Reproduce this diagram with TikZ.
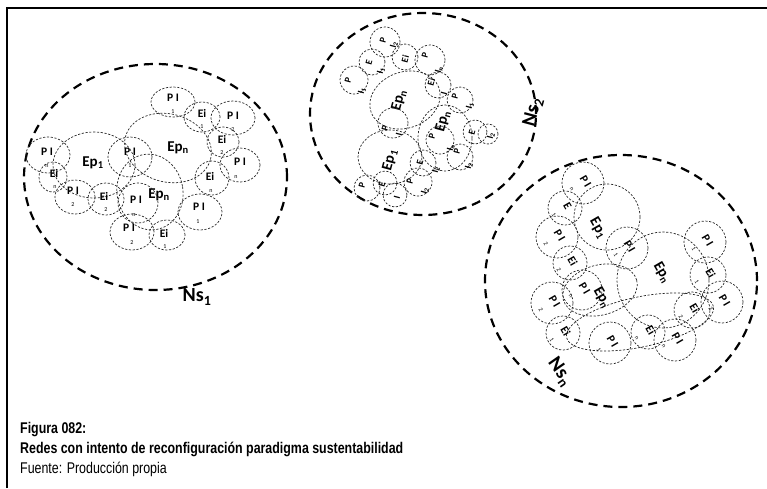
\documentclass[tikz,border=0pt]{standalone}
\usepackage{fontspec}
\setmainfont{Carlito}
\newfontfamily\capfont[FakeStretch=0.8]{Liberation Sans}
\usetikzlibrary{calc}
\tikzset{
  bigdash/.style={line width=2.2pt, dash pattern=on 9pt off 6pt},
  sm/.style={line width=0.7pt, black!85, dash pattern=on 2.2pt off 1.6pt},
  lab/.style={font=\bfseries\fontsize{11.5}{11.5}\selectfont, inner sep=0},
  labs/.style={font=\bfseries\fontsize{9.5}{9.5}\selectfont, inner sep=0},
  sub/.style={font=\fontsize{6}{6}\selectfont, inner sep=0},
  eplab/.style={font=\bfseries\fontsize{15}{15}\selectfont, inner sep=0},
  nslab/.style={font=\bfseries\fontsize{20}{20}\selectfont, inner sep=0},
  capline/.style={anchor=base west, inner sep=0, font=\capfont\fontsize{15.5}{15.5}\selectfont},
}
\begin{document}
\begin{tikzpicture}[x=1pt,y=1pt]
\useasboundingbox (0,0) rectangle (767,-488);
% frame
\draw[line width=2pt] (7,-488) -- (7,-8) -- (767,-8);

% ===== Cluster 1 =====
\draw[bigdash] (155.5,-177) ellipse (131.5 and 113);
\node[nslab] (ns1) at (197,-297) {Ns\textsubscript{1}};

\draw[sm] (94,-165) ellipse (41 and 33);
\node[eplab] (ep1a) at (93,-163) {Ep\textsubscript{1}};
\draw[sm, rotate around={-15:(168,-148)}] (168,-148) ellipse (44 and 34);
\node[eplab] (epna) at (178,-148) {Ep\textsubscript{n}};
\draw[sm, rotate around={10:(150,-192)}] (150,-192) ellipse (33 and 38);
\node[eplab] (epnb) at (159,-195) {Ep\textsubscript{n}};

\draw[sm] (173,-102) ellipse (22 and 15); \node[lab] at (173,-98) {P I}; \node[sub] at (173,-112) {1};
\draw[sm] (202,-117) ellipse (18 and 15); \node[lab] at (202,-113) {Ei}; \node[sub] at (202,-127) {1};
\draw[sm] (233,-118) ellipse (22 and 17); \node[lab] at (233,-116) {P I}; \node[sub] at (233,-130) {2};
\draw[sm] (223,-142) ellipse (16 and 15); \node[lab] at (222,-139) {Ei}; \node[sub] at (222,-153) {2};
\draw[sm] (240,-165) ellipse (20 and 17); \node[lab] at (240,-162) {P I}; \node[sub] at (236,-177) {n};
\draw[sm] (212,-178) ellipse (17 and 17); \node[lab] at (210,-176) {Ei}; \node[sub] at (211,-191) {n};
\draw[sm] (200,-212) ellipse (22 and 18); \node[lab] at (199,-207) {P I}; \node[sub] at (198,-222) {1};
\draw[sm] (167,-235) ellipse (18 and 15); \node[lab] at (164,-233) {Ei}; \node[sub] at (165,-247) {1};
\draw[sm] (132,-232) ellipse (22 and 18); \node[lab] at (129,-228) {P I}; \node[sub] at (132,-243) {2};
\draw[sm] (138,-203) ellipse (20 and 20); \node[lab] at (136,-200) {P I}; \node[sub] at (134,-215) {n};
\draw[sm] (106,-199) ellipse (18 and 16); \node[lab] at (104,-196) {Ei}; \node[sub] at (106,-210) {2};
\draw[sm] (75,-197) ellipse (20 and 17); \node[lab] at (73,-191) {P I}; \node[sub] at (73,-205) {2};
\draw[sm] (53,-177) ellipse (14 and 15); \node[lab] at (54,-173) {Ei}; \node[sub] at (55,-187) {n};
\draw[sm] (48,-155) ellipse (22 and 18); \node[lab] at (47,-152) {P I}; \node[sub] at (47,-166) {n};
\draw[sm] (130,-157) ellipse (22 and 20); \node[lab] at (130,-152) {P I}; \node[sub] at (130,-166) {1};

% ===== Cluster 2 =====
\draw[bigdash] (423,-114) ellipse (113 and 101);
\node[nslab, rotate=75] (ns2) at (533,-112) {Ns\textsubscript{2}};

\draw[sm, rotate around={20:(405,-100)}] (405,-100) ellipse (36 and 28);
\node[eplab, rotate=75] at (399,-100) {Ep\textsubscript{n}};
\draw[sm] (445,-138) ellipse (27 and 33);
\node[eplab, rotate=75] at (443,-121) {Ep\textsubscript{n}};
\draw[sm] (390,-157) ellipse (32 and 27);
\node[eplab, rotate=75] at (390,-160) {Ep\textsubscript{1}};

\draw[sm] (385,-42) circle (15); \node[labs, rotate=75] at (383,-40) {P};
\draw[sm] (354,-80) circle (14); \node[labs, rotate=75] at (348,-80) {P}; \node[labs, rotate=75] at (362,-91) {I\textsubscript{1}};
\draw[sm] (372,-62) circle (13); \node[labs, rotate=75] at (369,-62) {E}; \node[labs, rotate=75] at (381,-71) {I\textsubscript{1}};
\draw[sm] (405,-57) circle (13); \node[labs, rotate=75] at (405,-59) {Ei}; \node[labs, rotate=75] at (394,-45) {I\textsubscript{2}};
\draw[sm] (430,-60) circle (15); \node[labs, rotate=75] at (425,-55) {P}; \node[labs, rotate=75] at (439,-70) {I\textsubscript{n}};
\draw[sm] (438,-85) circle (13); \node[labs, rotate=75] at (431,-82) {Ei}; \node[labs, rotate=75] at (444,-93) {I};
\draw[sm] (460,-100) circle (13); \node[labs, rotate=75] at (455,-96) {P}; \node[labs, rotate=75] at (470,-106) {I\textsubscript{1}};
\draw[sm] (475,-132) circle (12); \node[labs, rotate=75] at (472,-132) {E};
\draw[sm] (488,-134) circle (10); \node[labs, rotate=75] at (491,-136) {I\textsubscript{2}};
\draw[sm] (460,-157) circle (13); \node[labs, rotate=75] at (457,-151) {P}; \node[labs, rotate=75] at (469,-166) {I\textsubscript{2}};
\draw[sm] (393,-123) circle (15); \node[labs, rotate=75] at (385,-128) {P}; \node[labs, rotate=75] at (399,-134) {I};
\draw[sm] (440,-140) circle (14); \node[labs, rotate=75] at (432,-136) {P}; \node[labs, rotate=75] at (451,-148) {I\textsubscript{n}};
\draw[sm] (423,-163) circle (13); \node[labs, rotate=75] at (420,-162) {E}; \node[labs, rotate=75] at (436,-170) {I\textsubscript{2}};
\draw[sm] (367,-188) circle (13); \node[labs, rotate=75] at (362,-185) {P};
\draw[sm] (385,-183) circle (12); \node[labs, rotate=75] at (382,-184) {E};
\draw[sm] (395,-195) circle (12); \node[labs, rotate=75] at (397,-197) {I};
\draw[sm] (418,-182) circle (14); \node[labs, rotate=75] at (410,-181) {P}; \node[labs, rotate=75] at (425,-191) {I\textsubscript{2}};

% ===== Cluster 3 =====
\draw[bigdash] (621,-281) ellipse (136 and 126);
\node[nslab, rotate=-55] (nsn) at (560,-372) {Ns\textsubscript{n}};

\draw[sm] (607,-217) circle (33);
\node[eplab, rotate=-60] at (598,-228) {Ep\textsubscript{1}};
\draw[sm] (663,-280) ellipse (46 and 48);
\node[eplab, rotate=-60] at (662,-273) {Ep\textsubscript{n}};
\draw[sm, rotate around={15:(600,-290)}] (600,-290) ellipse (38 and 25);
\node[eplab, rotate=-60] at (602,-298) {Ep\textsubscript{n}};
\draw[sm, rotate around={12:(640,-322)}] (640,-322) ellipse (75 and 25);

\foreach \cx/\cy/\r/\t/\s in {
  583/183/21/P I/n, 565/208/17/E/1, 557/237/21/P I/2, 570/263/17/Ei/2,
  582/290/20/P I/n, 552/303/21/P I/2, 563/333/17/Ei/1, 610/343/21/P I/1,
  648/332/17/Ei/n, 675/340/21/P I/n, 692/310/18/Ei/2, 722/302/21/P I/2,
  708/275/18/Ei/1, 705/242/21/P I/1, 627/248/21/P I/1}{
  \draw[sm] (\cx,-\cy) circle (\r);
  \node[lab, rotate=-60] at ($(\cx,-\cy)+(30:3)$) {\t};
  \node[sub, rotate=-60] at ($(\cx,-\cy)+(-150:13)$) {\s};
}

% ===== Caption =====
\node[capline] (c1) at (20,-433) {\bfseries Figura 082:};
\node[capline] (c2) at (20,-453) {\bfseries Redes con intento de reconfiguración paradigma sustentabilidad};
\node[capline] (c3) at (20,-473) {Fuente: Producción propia};
\end{tikzpicture}
\end{document}
